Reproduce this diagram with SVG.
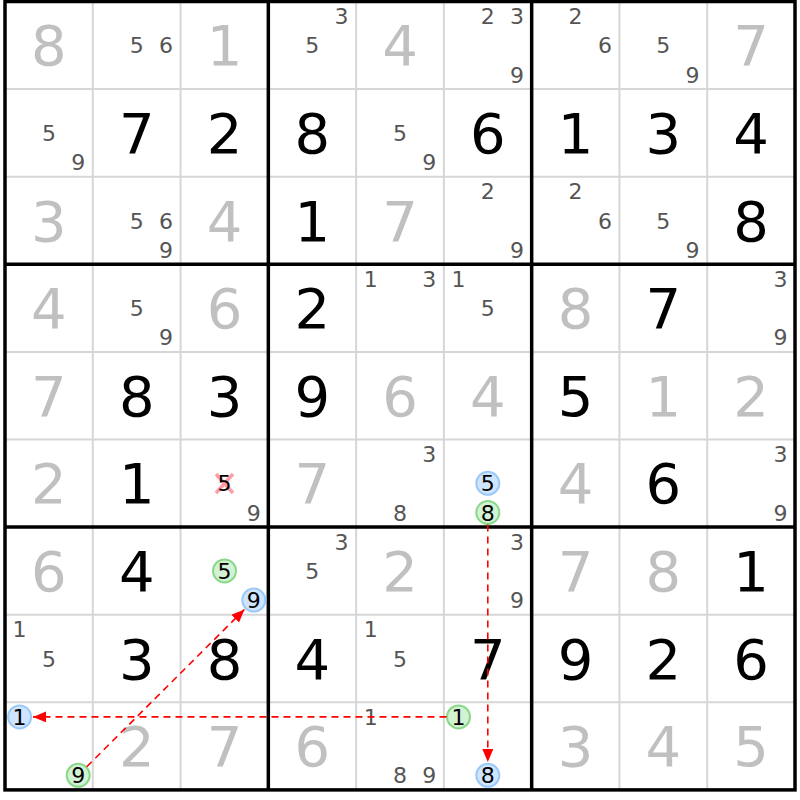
<svg xmlns="http://www.w3.org/2000/svg" width="800" height="800" viewBox="0 0 800 800">
<style>
text{font-family:"DejaVu Sans","Liberation Sans",sans-serif;text-anchor:middle}
.g{font-size:56px;fill:#c0c0c0}
.v{font-size:56px;fill:#000}
.c{font-size:22px;fill:#555}
.h{font-size:22px;fill:#000}
.thin{stroke:#d6d6d6;stroke-width:2}
.thick{stroke:#000;stroke-width:3.5}
.cb{fill:#cfe5ff;stroke:#9ccaf7;stroke-width:2}
.cg{fill:#d3f2d3;stroke:#8ad88a;stroke-width:2}
.link{stroke:#ff0000;stroke-width:1.6;stroke-dasharray:7 5;fill:none}
.x{stroke:#ff9ea6;stroke-width:3.5}
</style>
<defs>
<marker id="arr" markerUnits="userSpaceOnUse" markerWidth="14" markerHeight="12" refX="13" refY="5.5" orient="auto">
<path d="M0,0 L13,5.5 L0,11 z" fill="#ff0000"/>
</marker>
</defs>
<rect x="0" y="0" width="800" height="800" fill="#fff"/>
<g id="grid">
<g class="thin">
<line x1="92.78" y1="1.5" x2="92.78" y2="789.9"/>
<line x1="180.56" y1="1.5" x2="180.56" y2="789.9"/>
<line x1="356.11" y1="1.5" x2="356.11" y2="789.9"/>
<line x1="443.89" y1="1.5" x2="443.89" y2="789.9"/>
<line x1="619.44" y1="1.5" x2="619.44" y2="789.9"/>
<line x1="707.22" y1="1.5" x2="707.22" y2="789.9"/>
<line x1="5" y1="89.1" x2="795" y2="89.1"/>
<line x1="5" y1="176.7" x2="795" y2="176.7"/>
<line x1="5" y1="351.9" x2="795" y2="351.9"/>
<line x1="5" y1="439.5" x2="795" y2="439.5"/>
<line x1="5" y1="614.7" x2="795" y2="614.7"/>
<line x1="5" y1="702.3" x2="795" y2="702.3"/>
</g>
<g class="thick">
<line x1="268.33" y1="1.5" x2="268.33" y2="789.9"/>
<line x1="531.67" y1="1.5" x2="531.67" y2="789.9"/>
<line x1="5" y1="264.3" x2="795" y2="264.3"/>
<line x1="5" y1="527.1" x2="795" y2="527.1"/>
<rect x="5" y="1.5" width="790" height="788.4" fill="none"/>
</g>
</g>
<g id="r1c1"><text class="g" x="48.9" y="65.3">8</text></g>
<g id="r1c2"><text class="c" x="136.7" y="53.3">5</text><text class="c" x="166" y="53.3">6</text></g>
<g id="r1c3"><text class="g" x="224.5" y="65.3">1</text></g>
<g id="r1c4"><text class="c" x="341.5" y="24.1">3</text><text class="c" x="312.2" y="53.3">5</text></g>
<g id="r1c5"><text class="g" x="400" y="65.3">4</text></g>
<g id="r1c6"><text class="c" x="487.8" y="24.1">2</text><text class="c" x="517.1" y="24.1">3</text><text class="c" x="517.1" y="82.5">9</text></g>
<g id="r1c7"><text class="c" x="575.6" y="24.1">2</text><text class="c" x="604.9" y="53.3">6</text></g>
<g id="r1c8"><text class="c" x="663.3" y="53.3">5</text><text class="c" x="692.6" y="82.5">9</text></g>
<g id="r1c9"><text class="g" x="751.1" y="65.3">7</text></g>

<g id="r2c1"><text class="c" x="48.9" y="140.9">5</text><text class="c" x="78.2" y="170.1">9</text></g>
<g id="r2c2"><text class="v" x="136.7" y="152.9">7</text></g>
<g id="r2c3"><text class="v" x="224.5" y="152.9">2</text></g>
<g id="r2c4"><text class="v" x="312.2" y="152.9">8</text></g>
<g id="r2c5"><text class="c" x="400" y="140.9">5</text><text class="c" x="429.3" y="170.1">9</text></g>
<g id="r2c6"><text class="v" x="487.8" y="152.9">6</text></g>
<g id="r2c7"><text class="v" x="575.6" y="152.9">1</text></g>
<g id="r2c8"><text class="v" x="663.3" y="152.9">3</text></g>
<g id="r2c9"><text class="v" x="751.1" y="152.9">4</text></g>

<g id="r3c1"><text class="g" x="48.9" y="240.5">3</text></g>
<g id="r3c2"><text class="c" x="136.7" y="228.5">5</text><text class="c" x="166" y="228.5">6</text><text class="c" x="166" y="257.7">9</text></g>
<g id="r3c3"><text class="g" x="224.5" y="240.5">4</text></g>
<g id="r3c4"><text class="v" x="312.2" y="240.5">1</text></g>
<g id="r3c5"><text class="g" x="400" y="240.5">7</text></g>
<g id="r3c6"><text class="c" x="487.8" y="199.3">2</text><text class="c" x="517.1" y="257.7">9</text></g>
<g id="r3c7"><text class="c" x="575.6" y="199.3">2</text><text class="c" x="604.9" y="228.5">6</text></g>
<g id="r3c8"><text class="c" x="663.3" y="228.5">5</text><text class="c" x="692.6" y="257.7">9</text></g>
<g id="r3c9"><text class="v" x="751.1" y="240.5">8</text></g>

<g id="r4c1"><text class="g" x="48.9" y="328.1">4</text></g>
<g id="r4c2"><text class="c" x="136.7" y="316.1">5</text><text class="c" x="166" y="345.3">9</text></g>
<g id="r4c3"><text class="g" x="224.5" y="328.1">6</text></g>
<g id="r4c4"><text class="v" x="312.2" y="328.1">2</text></g>
<g id="r4c5"><text class="c" x="370.7" y="286.9">1</text><text class="c" x="429.3" y="286.9">3</text></g>
<g id="r4c6"><text class="c" x="458.5" y="286.9">1</text><text class="c" x="487.8" y="316.1">5</text></g>
<g id="r4c7"><text class="g" x="575.6" y="328.1">8</text></g>
<g id="r4c8"><text class="v" x="663.3" y="328.1">7</text></g>
<g id="r4c9"><text class="c" x="780.4" y="286.9">3</text><text class="c" x="780.4" y="345.3">9</text></g>

<g id="r5c1"><text class="g" x="48.9" y="415.7">7</text></g>
<g id="r5c2"><text class="v" x="136.7" y="415.7">8</text></g>
<g id="r5c3"><text class="v" x="224.5" y="415.7">3</text></g>
<g id="r5c4"><text class="v" x="312.2" y="415.7">9</text></g>
<g id="r5c5"><text class="g" x="400" y="415.7">6</text></g>
<g id="r5c6"><text class="g" x="487.8" y="415.7">4</text></g>
<g id="r5c7"><text class="v" x="575.6" y="415.7">5</text></g>
<g id="r5c8"><text class="g" x="663.3" y="415.7">1</text></g>
<g id="r5c9"><text class="g" x="751.1" y="415.7">2</text></g>

<g id="r6c1"><text class="g" x="48.9" y="503.3">2</text></g>
<g id="r6c2"><text class="v" x="136.7" y="503.3">1</text></g>
<g id="r6c3"><line class="x" x1="216" y1="474" x2="233" y2="493"/><line class="x" x1="233" y1="474" x2="216" y2="493"/><text class="h" x="224.5" y="491.3">5</text><text class="c" x="253.8" y="520.5">9</text></g>
<g id="r6c4"><text class="g" x="312.2" y="503.3">7</text></g>
<g id="r6c5"><text class="c" x="429.3" y="462.1">3</text><text class="c" x="400" y="520.5">8</text></g>
<g id="r6c6"><circle class="cb" cx="487.8" cy="483.3" r="11.5"/><text class="h" x="487.8" y="491.3">5</text><circle class="cg" cx="487.8" cy="512.5" r="11.5"/><text class="h" x="487.8" y="520.5">8</text></g>
<g id="r6c7"><text class="g" x="575.6" y="503.3">4</text></g>
<g id="r6c8"><text class="v" x="663.3" y="503.3">6</text></g>
<g id="r6c9"><text class="c" x="780.4" y="462.1">3</text><text class="c" x="780.4" y="520.5">9</text></g>

<g id="r7c1"><text class="g" x="48.9" y="590.9">6</text></g>
<g id="r7c2"><text class="v" x="136.7" y="590.9">4</text></g>
<g id="r7c3"><circle class="cg" cx="224.5" cy="570.9" r="11.5"/><text class="h" x="224.5" y="578.9">5</text><circle class="cb" cx="253.8" cy="600.1" r="11.5"/><text class="h" x="253.8" y="608.1">9</text></g>
<g id="r7c4"><text class="c" x="341.5" y="549.7">3</text><text class="c" x="312.2" y="578.9">5</text></g>
<g id="r7c5"><text class="g" x="400" y="590.9">2</text></g>
<g id="r7c6"><text class="c" x="517.1" y="549.7">3</text><text class="c" x="517.1" y="608.1">9</text></g>
<g id="r7c7"><text class="g" x="575.6" y="590.9">7</text></g>
<g id="r7c8"><text class="g" x="663.3" y="590.9">8</text></g>
<g id="r7c9"><text class="v" x="751.1" y="590.9">1</text></g>

<g id="r8c1"><text class="c" x="19.6" y="637.3">1</text><text class="c" x="48.9" y="666.5">5</text></g>
<g id="r8c2"><text class="v" x="136.7" y="678.5">3</text></g>
<g id="r8c3"><text class="v" x="224.5" y="678.5">8</text></g>
<g id="r8c4"><text class="v" x="312.2" y="678.5">4</text></g>
<g id="r8c5"><text class="c" x="370.7" y="637.3">1</text><text class="c" x="400" y="666.5">5</text></g>
<g id="r8c6"><text class="v" x="487.8" y="678.5">7</text></g>
<g id="r8c7"><text class="v" x="575.6" y="678.5">9</text></g>
<g id="r8c8"><text class="v" x="663.3" y="678.5">2</text></g>
<g id="r8c9"><text class="v" x="751.1" y="678.5">6</text></g>

<g id="r9c1"><circle class="cb" cx="19.6" cy="716.9" r="11.5"/><text class="h" x="19.6" y="724.9">1</text><circle class="cg" cx="78.2" cy="775.3" r="11.5"/><text class="h" x="78.2" y="783.3">9</text></g>
<g id="r9c2"><text class="g" x="136.7" y="766.1">2</text></g>
<g id="r9c3"><text class="g" x="224.5" y="766.1">7</text></g>
<g id="r9c4"><text class="g" x="312.2" y="766.1">6</text></g>
<g id="r9c5"><text class="c" x="370.7" y="724.9">1</text><text class="c" x="400" y="783.3">8</text><text class="c" x="429.3" y="783.3">9</text></g>
<g id="r9c6"><circle class="cg" cx="458.5" cy="716.9" r="11.5"/><text class="h" x="458.5" y="724.9">1</text><circle class="cb" cx="487.8" cy="775.3" r="11.5"/><text class="h" x="487.8" y="783.3">8</text></g>
<g id="r9c7"><text class="g" x="575.6" y="766.1">3</text></g>
<g id="r9c8"><text class="g" x="663.3" y="766.1">4</text></g>
<g id="r9c9"><text class="g" x="751.1" y="766.1">5</text></g>

<g id="connectors">
<line class="link" x1="487.8" y1="524.5" x2="487.8" y2="762" marker-end="url(#arr)"/>
<line class="link" x1="446.5" y1="716.9" x2="33" y2="716.9" marker-end="url(#arr)"/>
<line class="link" x1="86.8" y1="766.7" x2="244.4" y2="609.5" marker-end="url(#arr)"/>
</g>
</svg>
